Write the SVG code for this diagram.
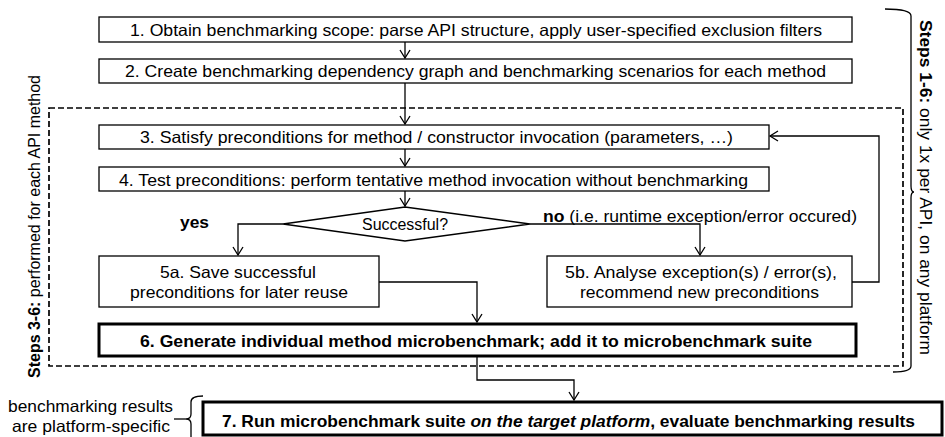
<svg xmlns="http://www.w3.org/2000/svg" width="945" height="437" viewBox="0 0 945 437">
<defs>
<marker id="arr" viewBox="-10 -6 12 12" refX="0" refY="0" markerWidth="12" markerHeight="12" markerUnits="userSpaceOnUse" orient="auto">
<path d="M-8,-5 L0,0 L-8,5" fill="none" stroke="#000" stroke-width="1.3"/>
</marker>
</defs>
<style>
text{font-family:"Liberation Sans",Arial,sans-serif;font-size:16.5px;fill:#000}
.b{font-weight:bold}
.box{fill:#fff;stroke:#000;stroke-width:1.3}
.thick{fill:#fff;stroke:#000;stroke-width:3}
.dash{fill:none;stroke:#000;stroke-width:1.7;stroke-dasharray:6,3}
.c{fill:none;stroke:#000;stroke-width:1.3}
.m{text-anchor:middle}
</style>
<rect class="dash" x="49" y="108" width="854" height="258"/>
<g id="connectors">
<line class="c" x1="405" y1="42" x2="405" y2="58" marker-end="url(#arr)"/>
<line class="c" x1="405" y1="83" x2="405" y2="124" marker-end="url(#arr)"/>
<line class="c" x1="405" y1="149" x2="405" y2="166" marker-end="url(#arr)"/>
<line class="c" x1="405" y1="191" x2="405" y2="206" marker-end="url(#arr)"/>
<polyline class="c" points="283,224 238,224 238,255" marker-end="url(#arr)"/>
<polyline class="c" points="530,224 700,224 700,255" marker-end="url(#arr)"/>
<polyline class="c" points="379,282 477,282 477,322" marker-end="url(#arr)"/>
<polyline class="c" points="852,282 879,282 879,136 770,136" marker-end="url(#arr)"/>
<polyline class="c" points="477,356 477,380 574,380 574,400" marker-end="url(#arr)"/>
</g>
<g id="step1"><rect class="box" x="99" y="17" width="753" height="25"/><text class="m" x="476" y="36" textLength="692" lengthAdjust="spacingAndGlyphs">1. Obtain benchmarking scope: parse API structure, apply user-specified exclusion filters</text></g>
<g id="step2"><rect class="box" x="99" y="59" width="753" height="24"/><text class="m" x="475.5" y="77" textLength="701" lengthAdjust="spacingAndGlyphs">2. Create benchmarking dependency graph and benchmarking scenarios for each method</text></g>
<g id="step3"><rect class="box" x="99" y="125" width="670" height="24"/><text class="m" x="436.5" y="143" textLength="593" lengthAdjust="spacingAndGlyphs">3. Satisfy preconditions for method / constructor invocation (parameters, …)</text></g>
<g id="step4"><rect class="box" x="99" y="167" width="670" height="24"/><text class="m" x="433.5" y="186" textLength="629" lengthAdjust="spacingAndGlyphs">4. Test preconditions: perform tentative method invocation without benchmarking</text></g>
<g id="decision"><polygon class="box" points="283,224 405,207 530,224 405,241"/><text class="m" x="405" y="230" style="font-size:16px" textLength="86" lengthAdjust="spacingAndGlyphs">Successful?</text></g>
<text class="b" x="180" y="228" textLength="29" lengthAdjust="spacingAndGlyphs">yes</text>
<text x="543" y="222" textLength="314" lengthAdjust="spacingAndGlyphs"><tspan class="b">no</tspan> (i.e. runtime exception/error occured)</text>
<g id="step5a"><rect class="box" x="99" y="256" width="280" height="51"/><text class="m" x="238" y="278" textLength="156" lengthAdjust="spacingAndGlyphs">5a. Save successful</text><text class="m" x="239" y="298" textLength="218" lengthAdjust="spacingAndGlyphs">preconditions for later reuse</text></g>
<g id="step5b"><rect class="box" x="547" y="256" width="305" height="51"/><text class="m" x="701" y="278" textLength="272" lengthAdjust="spacingAndGlyphs">5b. Analyse exception(s) / error(s),</text><text class="m" x="699.5" y="298" textLength="239" lengthAdjust="spacingAndGlyphs">recommend new preconditions</text></g>
<g id="step6"><rect class="thick" x="99" y="324" width="757" height="32"/><text class="m b" x="476" y="347" textLength="672" lengthAdjust="spacingAndGlyphs">6. Generate individual method microbenchmark; add it to microbenchmark suite</text></g>
<g id="step7"><rect class="thick" x="203" y="402" width="739" height="33"/><text class="m b" x="568.5" y="427" textLength="693" lengthAdjust="spacingAndGlyphs">7. Run microbenchmark suite <tspan font-style="italic">on the target platform</tspan>, evaluate benchmarking results</text></g>
<g id="label-left"><text class="m" transform="translate(40,226.5) rotate(-90)" textLength="303" lengthAdjust="spacingAndGlyphs"><tspan class="b">Steps 3-6:</tspan> performed for each API method</text></g>
<g id="label-right"><path class="c" d="M885,9 Q911,9 911,16 L911,186 Q911,192 914,192 Q911,192 911,198 L911,366 Q911,372 893,372"/><text class="m" transform="translate(920,187.5) rotate(90)" textLength="335" lengthAdjust="spacingAndGlyphs"><tspan class="b">Steps 1-6:</tspan> only 1x per API, on any platform</text></g>
<g id="label-bottom"><path class="c" d="M203,396 Q191,396 191,402 L191,414 Q191,419 186,419 Q191,419 191,424 L191,437"/><line class="c" x1="174" y1="419" x2="186" y2="419"/><text class="m" x="90.5" y="412" textLength="165" lengthAdjust="spacingAndGlyphs">benchmarking results</text><text class="m" x="91" y="432" textLength="158" lengthAdjust="spacingAndGlyphs">are platform-specific</text></g>
</svg>
